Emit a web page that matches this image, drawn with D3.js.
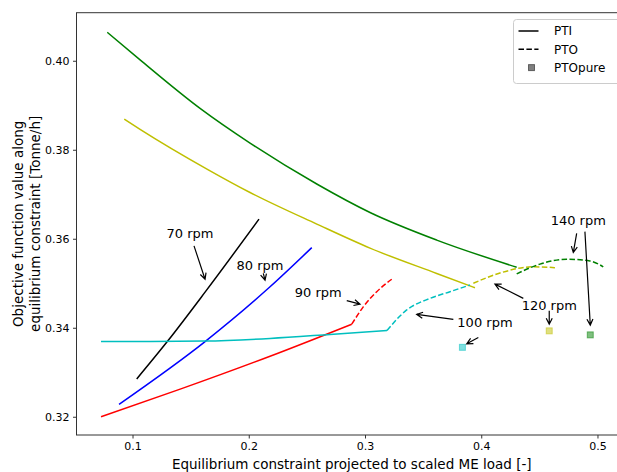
<!doctype html>
<html lang="en">
<head>
    <meta charset="UTF-8">
    <title>Objective function along equilibrium constraint</title>
    <script src="https://d3js.org/d3.v7.min.js"></script>
    <style>
        body { margin: 0; background: white; }
        svg { display: block; }
        text { font-family: "DejaVu Sans", sans-serif; fill: black; }
        .tick text { font-size: 11px; }
        .ann { font-size: 13px; }
        .axis-label { font-size: 13.5px; }
        .legend text { font-size: 12px; }
    </style>
</head>
<body>
<svg width="617" height="472"></svg>
<script>
    // PTI (solid) curves, [load, objective]
    const pti70 = [[0.1036, 0.3285], [0.1299, 0.3369], [0.1624, 0.3480], [0.2088, 0.3644]];
    const pti80 = [[0.0884, 0.3228], [0.1624, 0.3369], [0.2183, 0.3492], [0.2542, 0.3580]];
    const pti90 = [[0.0729, 0.3200], [0.1410, 0.3262], [0.2183, 0.3336], [0.2886, 0.3408]];
    const pti100 = [[0.0729, 0.3369], [0.1151, 0.3369], [0.1624, 0.3370], [0.2183, 0.3376], [0.2699, 0.3385], [0.3189, 0.3394]];
    const pti120 = [[0.0929, 0.3869], [0.1065, 0.3846], [0.1652, 0.3755], [0.2011, 0.3704], [0.2585, 0.3633], [0.3043, 0.3579], [0.3617, 0.3522], [0.3946, 0.3490]];
    const pti140 = [[0.0783, 0.4064], [0.1065, 0.4002], [0.1581, 0.3893], [0.2011, 0.3815], [0.2585, 0.3723], [0.3043, 0.3659], [0.3617, 0.3597], [0.4305, 0.3536]];

    // PTO (dashed) curves
    const pto90 = [[0.2886, 0.3408], [0.2985, 0.3447], [0.3101, 0.3481], [0.3230, 0.3509]];
    const pto100 = [[0.3189, 0.3394], [0.3359, 0.3440], [0.3559, 0.3466], [0.3731, 0.3481], [0.3903, 0.3496]];
    const pto120 = [[0.3932, 0.3500], [0.4161, 0.3523], [0.4448, 0.3537], [0.4634, 0.3535]];
    const pto140 = [[0.4305, 0.3521], [0.4505, 0.3543], [0.4735, 0.3554], [0.4935, 0.3550], [0.5050, 0.3537]];

    // PTOpure points
    const ptoPure = [
        { rpm: 100, x: 0.3838, y: 0.3356 },
        { rpm: 120, x: 0.4585, y: 0.3393 },
        { rpm: 140, x: 0.4938, y: 0.3384 }
    ];

    const xTicks = [0.1, 0.2, 0.3, 0.4, 0.5];
    const yTicks = [0.32, 0.34, 0.36, 0.38, 0.40];

    // labels: text centre and arrows (from -> to), data coords
    const annotations = [
        { text: '70 rpm', at: [0.1495, 0.3612], arrows: [[[0.1529, 0.3584], [0.1624, 0.3509]]] },
        { text: '80 rpm', at: [0.2097, 0.3541], arrows: [[[0.2125, 0.3522], [0.2140, 0.3507]]] },
        { text: '90 rpm', at: [0.2598, 0.3480], arrows: [[[0.2843, 0.3461], [0.2957, 0.3453]]] },
        { text: '100 rpm', at: [0.4032, 0.3411], arrows: [[[0.3760, 0.3419], [0.3445, 0.3430]], [[0.3975, 0.3378], [0.3875, 0.3364]]] },
        { text: '120 rpm', at: [0.4585, 0.3451], arrows: [[[0.4362, 0.3466], [0.4118, 0.3498]], [[0.4585, 0.3438], [0.4585, 0.3408]]] },
        { text: '140 rpm', at: [0.4835, 0.3641], arrows: [[[0.4821, 0.3612], [0.4792, 0.3569]], [[0.4892, 0.3616], [0.4938, 0.3406]]] }
    ];

    const colors = { 70: '#000000', 80: '#0000ff', 90: '#ff0000', 100: '#00bfbf', 120: '#bfbf00', 140: '#008000' };

    const svg = d3.select('svg');
    const mLeft = 76.5, mRight = 627, mTop = 12.7, mBottom = 435;

    const x = d3.scaleLinear().domain([0.0518, 0.5254]).range([mLeft, mRight]);
    const y = d3.scaleLinear().domain([0.3159, 0.4108]).range([mBottom, mTop]);

    const line = d3.line()
        .x(d => x(d[0]))
        .y(d => y(d[1]))
        .curve(d3.curveMonotoneX);

    const plot = svg.append('g');

    const solid = [[70, pti70], [80, pti80], [90, pti90], [100, pti100], [120, pti120], [140, pti140]];
    const dashed = [[90, pto90], [100, pto100], [120, pto120], [140, pto140]];

    plot.selectAll('.pti')
        .data(solid)
        .enter()
        .append('path')
        .attr('class', 'pti')
        .attr('d', d => line(d[1]))
        .attr('fill', 'none')
        .attr('stroke', d => colors[d[0]])
        .attr('stroke-width', 1.5);

    plot.selectAll('.pto')
        .data(dashed)
        .enter()
        .append('path')
        .attr('class', 'pto')
        .attr('d', d => line(d[1]))
        .attr('fill', 'none')
        .attr('stroke', d => colors[d[0]])
        .attr('stroke-width', 1.5)
        .attr('stroke-dasharray', '5.5,2.4');

    plot.selectAll('.pure')
        .data(ptoPure)
        .enter()
        .append('rect')
        .attr('x', d => x(d.x) - 3)
        .attr('y', d => y(d.y) - 3)
        .attr('width', 6)
        .attr('height', 6)
        .attr('fill', d => colors[d.rpm])
        .attr('fill-opacity', 0.5)
        .attr('stroke', d => colors[d.rpm])
        .attr('stroke-opacity', 0.5)
        .attr('stroke-width', 1);

    // arrows like matplotlib '->'
    function arrow(g, p0, p1) {
        const x0 = x(p0[0]), y0 = y(p0[1]), x1 = x(p1[0]), y1 = y(p1[1]);
        const a = Math.atan2(y1 - y0, x1 - x0);
        const hl = 6, hw = 3;
        const bx = x1 - hl * Math.cos(a), by = y1 - hl * Math.sin(a);
        const nx = -Math.sin(a) * hw, ny = Math.cos(a) * hw;
        g.append('path')
            .attr('d', `M${x0},${y0}L${x1},${y1}M${bx + nx},${by + ny}L${x1},${y1}L${bx - nx},${by - ny}`)
            .attr('fill', 'none')
            .attr('stroke', 'black')
            .attr('stroke-width', 1.2);
    }

    const annG = svg.append('g');
    annotations.forEach(a => {
        annG.append('text')
            .attr('class', 'ann')
            .attr('x', x(a.at[0]))
            .attr('y', y(a.at[1]))
            .attr('dy', '0.35em')
            .attr('text-anchor', 'middle')
            .text(a.text);
        a.arrows.forEach(ar => arrow(annG, ar[0], ar[1]));
    });

    // axes
    const xAxis = svg.append('g')
        .attr('transform', `translate(0,${mBottom})`)
        .call(d3.axisBottom(x).tickValues(xTicks).tickFormat(d3.format('.1f')).tickSize(3.5).tickPadding(3.5));
    const yAxis = svg.append('g')
        .attr('transform', `translate(${mLeft},0)`)
        .call(d3.axisLeft(y).tickValues(yTicks).tickFormat(d3.format('.2f')).tickSize(3.5).tickPadding(3.5));
    [xAxis, yAxis].forEach(ax => {
        ax.select('.domain').remove();
        ax.selectAll('.tick line').attr('stroke', '#333');
        ax.selectAll('.tick text').attr('fill', 'black');
    });

    // frame
    svg.append('rect')
        .attr('x', mLeft)
        .attr('y', mTop)
        .attr('width', mRight - mLeft)
        .attr('height', mBottom - mTop)
        .attr('fill', 'none')
        .attr('stroke', '#333')
        .attr('stroke-width', 1);

    svg.append('text')
        .attr('class', 'axis-label')
        .attr('x', (mLeft + mRight) / 2)
        .attr('y', 469)
        .attr('text-anchor', 'middle')
        .text('Equilibrium constraint projected to scaled ME load [-]');

    const yl = svg.append('text')
        .attr('class', 'axis-label')
        .attr('transform', `translate(0,${(mTop + mBottom) / 2}) rotate(-90)`)
        .attr('text-anchor', 'middle');
    yl.append('tspan').attr('x', 0).attr('y', 23).text('Objective function value along');
    yl.append('tspan').attr('x', 0).attr('y', 39.5).text('equilibrium constraint [Tonne/h]');

    // legend
    const lg = svg.append('g').attr('class', 'legend');
    lg.append('rect')
        .attr('x', 513.5)
        .attr('y', 19.5)
        .attr('width', 107)
        .attr('height', 64)
        .attr('rx', 3)
        .attr('fill', 'white')
        .attr('fill-opacity', 0.8)
        .attr('stroke', '#ccc');
    const items = [
        { label: 'PTI', type: 'solid' },
        { label: 'PTO', type: 'dashed' },
        { label: 'PTOpure', type: 'square' }
    ];
    items.forEach((it, i) => {
        const cy = 31 + i * 18.3;
        if (it.type === 'square') {
            lg.append('rect')
                .attr('x', 528.5).attr('y', cy - 3)
                .attr('width', 6).attr('height', 6)
                .attr('fill', 'black').attr('fill-opacity', 0.5)
                .attr('stroke', 'black').attr('stroke-opacity', 0.5);
        } else {
            lg.append('line')
                .attr('x1', 518.5).attr('x2', 538.5)
                .attr('y1', cy).attr('y2', cy)
                .attr('stroke', 'black')
                .attr('stroke-width', 1.5)
                .attr('stroke-dasharray', it.type === 'dashed' ? '5.5,2.4' : null);
        }
        lg.append('text')
            .attr('x', 554)
            .attr('y', cy)
            .attr('dy', '0.35em')
            .text(it.label);
    });
</script>
</body>
</html>
